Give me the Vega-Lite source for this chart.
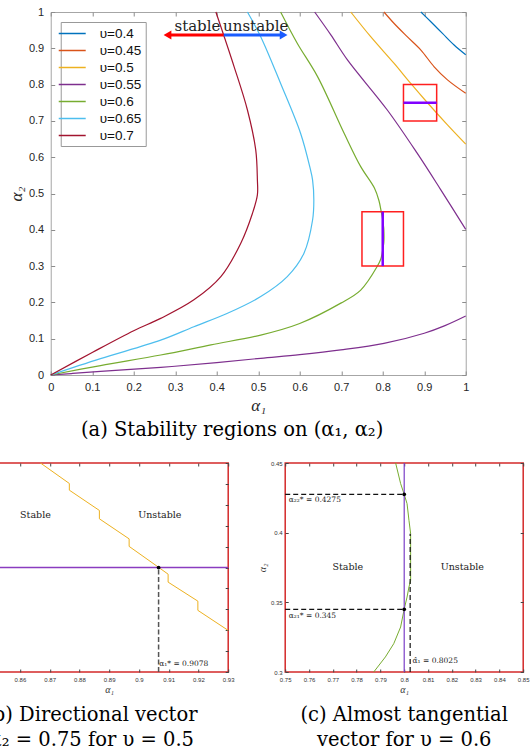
{
  "$schema": "https://vega.github.io/schema/vega-lite/v6.json",
  "padding": {"left": -53, "top": 5, "right": 0, "bottom": 0},
  "background": "white",
  "center": true,
  "spacing": 19,
  "resolve": {"scale": {"color": "independent"}, "legend": {"color": "independent"}},
  "datasets": {
    "contours": [
      {"v":"υ=0.4","b":"a","i":0,"a1":0.892,"a2":1},
      {"v":"υ=0.4","b":"a","i":1,"a1":0.916,"a2":0.973},
      {"v":"υ=0.4","b":"a","i":2,"a1":0.944,"a2":0.941},
      {"v":"υ=0.4","b":"a","i":3,"a1":0.972,"a2":0.909},
      {"v":"υ=0.4","b":"a","i":4,"a1":1,"a2":0.882},
      {"v":"υ=0.45","b":"b","i":0,"a1":0.803,"a2":1},
      {"v":"υ=0.45","b":"b","i":1,"a1":0.827,"a2":0.969},
      {"v":"υ=0.45","b":"b","i":2,"a1":0.859,"a2":0.932},
      {"v":"υ=0.45","b":"b","i":3,"a1":0.892,"a2":0.895},
      {"v":"υ=0.45","b":"b","i":4,"a1":0.924,"a2":0.849},
      {"v":"υ=0.45","b":"b","i":5,"a1":0.956,"a2":0.813},
      {"v":"υ=0.45","b":"b","i":6,"a1":1,"a2":0.776},
      {"v":"υ=0.5","b":"c","i":0,"a1":0.723,"a2":1},
      {"v":"υ=0.5","b":"c","i":1,"a1":0.771,"a2":0.932},
      {"v":"υ=0.5","b":"c","i":2,"a1":0.827,"a2":0.859},
      {"v":"υ=0.5","b":"c","i":3,"a1":0.867,"a2":0.804},
      {"v":"υ=0.5","b":"c","i":4,"a1":0.9078,"a2":0.75},
      {"v":"υ=0.5","b":"c","i":5,"a1":0.956,"a2":0.689},
      {"v":"υ=0.5","b":"c","i":6,"a1":1,"a2":0.636},
      {"v":"υ=0.55","b":"d","i":0,"a1":0.636,"a2":1},
      {"v":"υ=0.55","b":"d","i":1,"a1":0.675,"a2":0.937},
      {"v":"υ=0.55","b":"d","i":2,"a1":0.715,"a2":0.868},
      {"v":"υ=0.55","b":"d","i":3,"a1":0.811,"a2":0.73},
      {"v":"υ=0.55","b":"d","i":4,"a1":0.883,"a2":0.611},
      {"v":"υ=0.55","b":"d","i":5,"a1":0.94,"a2":0.51},
      {"v":"υ=0.55","b":"d","i":6,"a1":1,"a2":0.401},
      {"v":"υ=0.55","b":"e","i":0,"a1":0,"a2":0},
      {"v":"υ=0.55","b":"e","i":1,"a1":0.05,"a2":0.004},
      {"v":"υ=0.55","b":"e","i":2,"a1":0.12,"a2":0.01},
      {"v":"υ=0.55","b":"e","i":3,"a1":0.265,"a2":0.021},
      {"v":"υ=0.55","b":"e","i":4,"a1":0.4,"a2":0.034},
      {"v":"υ=0.55","b":"e","i":5,"a1":0.506,"a2":0.046},
      {"v":"υ=0.55","b":"e","i":6,"a1":0.6,"a2":0.056},
      {"v":"υ=0.55","b":"e","i":7,"a1":0.699,"a2":0.069},
      {"v":"υ=0.55","b":"e","i":8,"a1":0.803,"a2":0.087},
      {"v":"υ=0.55","b":"e","i":9,"a1":0.9,"a2":0.115},
      {"v":"υ=0.55","b":"e","i":10,"a1":0.95,"a2":0.136},
      {"v":"υ=0.55","b":"e","i":11,"a1":1,"a2":0.1625},
      {"v":"υ=0.6","b":"f","i":0,"a1":0.554,"a2":1},
      {"v":"υ=0.6","b":"f","i":1,"a1":0.594,"a2":0.914},
      {"v":"υ=0.6","b":"f","i":2,"a1":0.643,"a2":0.822},
      {"v":"υ=0.6","b":"f","i":3,"a1":0.707,"a2":0.666},
      {"v":"υ=0.6","b":"f","i":4,"a1":0.747,"a2":0.574},
      {"v":"υ=0.6","b":"f","i":5,"a1":0.78,"a2":0.515},
      {"v":"υ=0.6","b":"f","i":6,"a1":0.791,"a2":0.48},
      {"v":"υ=0.6","b":"f","i":7,"a1":0.7964,"a2":0.45},
      {"v":"υ=0.6","b":"f","i":8,"a1":0.8,"a2":0.4275},
      {"v":"υ=0.6","b":"f","i":9,"a1":0.802,"a2":0.409},
      {"v":"υ=0.6","b":"f","i":10,"a1":0.8027,"a2":0.3993},
      {"v":"υ=0.6","b":"f","i":11,"a1":0.8027,"a2":0.3658},
      {"v":"υ=0.6","b":"f","i":12,"a1":0.8012,"a2":0.3538},
      {"v":"υ=0.6","b":"f","i":13,"a1":0.8,"a2":0.345},
      {"v":"υ=0.6","b":"f","i":14,"a1":0.7956,"a2":0.3203},
      {"v":"υ=0.6","b":"f","i":15,"a1":0.7872,"a2":0.3},
      {"v":"υ=0.6","b":"f","i":16,"a1":0.747,"a2":0.234},
      {"v":"υ=0.6","b":"f","i":17,"a1":0.699,"a2":0.198},
      {"v":"υ=0.6","b":"f","i":18,"a1":0.6,"a2":0.142},
      {"v":"υ=0.6","b":"f","i":19,"a1":0.506,"a2":0.11},
      {"v":"υ=0.6","b":"f","i":20,"a1":0.386,"a2":0.083},
      {"v":"υ=0.6","b":"f","i":21,"a1":0.265,"a2":0.055},
      {"v":"υ=0.6","b":"f","i":22,"a1":0.12,"a2":0.026},
      {"v":"υ=0.6","b":"f","i":23,"a1":0,"a2":0},
      {"v":"υ=0.65","b":"g","i":0,"a1":0.474,"a2":1},
      {"v":"υ=0.65","b":"g","i":1,"a1":0.506,"a2":0.932},
      {"v":"υ=0.65","b":"g","i":2,"a1":0.554,"a2":0.803},
      {"v":"υ=0.65","b":"g","i":3,"a1":0.602,"a2":0.666},
      {"v":"υ=0.65","b":"g","i":4,"a1":0.625,"a2":0.57},
      {"v":"υ=0.65","b":"g","i":5,"a1":0.631,"a2":0.537},
      {"v":"υ=0.65","b":"g","i":6,"a1":0.634,"a2":0.482},
      {"v":"υ=0.65","b":"g","i":7,"a1":0.631,"a2":0.427},
      {"v":"υ=0.65","b":"g","i":8,"a1":0.61,"a2":0.335},
      {"v":"υ=0.65","b":"g","i":9,"a1":0.57,"a2":0.271},
      {"v":"υ=0.65","b":"g","i":10,"a1":0.506,"a2":0.216},
      {"v":"υ=0.65","b":"g","i":11,"a1":0.426,"a2":0.17},
      {"v":"υ=0.65","b":"g","i":12,"a1":0.345,"a2":0.133},
      {"v":"υ=0.65","b":"g","i":13,"a1":0.265,"a2":0.096},
      {"v":"υ=0.65","b":"g","i":14,"a1":0.12,"a2":0.045},
      {"v":"υ=0.65","b":"g","i":15,"a1":0,"a2":0},
      {"v":"υ=0.7","b":"h","i":0,"a1":0.398,"a2":1},
      {"v":"υ=0.7","b":"h","i":1,"a1":0.442,"a2":0.849},
      {"v":"υ=0.7","b":"h","i":2,"a1":0.474,"a2":0.73},
      {"v":"υ=0.7","b":"h","i":3,"a1":0.494,"a2":0.62},
      {"v":"υ=0.7","b":"h","i":4,"a1":0.498,"a2":0.537},
      {"v":"υ=0.7","b":"h","i":5,"a1":0.498,"a2":0.496},
      {"v":"υ=0.7","b":"h","i":6,"a1":0.486,"a2":0.445},
      {"v":"υ=0.7","b":"h","i":7,"a1":0.458,"a2":0.363},
      {"v":"υ=0.7","b":"h","i":8,"a1":0.41,"a2":0.271},
      {"v":"υ=0.7","b":"h","i":9,"a1":0.345,"a2":0.207},
      {"v":"υ=0.7","b":"h","i":10,"a1":0.265,"a2":0.156},
      {"v":"υ=0.7","b":"h","i":11,"a1":0.2,"a2":0.122},
      {"v":"υ=0.7","b":"h","i":12,"a1":0.1,"a2":0.062},
      {"v":"υ=0.7","b":"h","i":13,"a1":0,"a2":0}
    ],
    "bstair": [
      {"i":0,"a1":0.8669,"a2":0.8},
      {"i":1,"a1":0.8766,"a2":0.7902},
      {"i":2,"a1":0.8766,"a2":0.787},
      {"i":3,"a1":0.8867,"a2":0.7773},
      {"i":4,"a1":0.8867,"a2":0.7733},
      {"i":5,"a1":0.8967,"a2":0.7637},
      {"i":6,"a1":0.8967,"a2":0.7601},
      {"i":7,"a1":0.9065,"a2":0.7502},
      {"i":8,"a1":0.9098,"a2":0.7468},
      {"i":9,"a1":0.9098,"a2":0.743},
      {"i":10,"a1":0.9198,"a2":0.7339},
      {"i":11,"a1":0.9198,"a2":0.7295},
      {"i":12,"a1":0.93,"a2":0.7199}
    ],
    "cgreen": [
      {"i":0,"a1":0.7964,"a2":0.45},
      {"i":1,"a1":0.7985,"a2":0.4352},
      {"i":2,"a1":0.8,"a2":0.4275},
      {"i":3,"a1":0.8012,"a2":0.4208},
      {"i":4,"a1":0.802,"a2":0.4089},
      {"i":5,"a1":0.8027,"a2":0.3993},
      {"i":6,"a1":0.8027,"a2":0.3658},
      {"i":7,"a1":0.802,"a2":0.361},
      {"i":8,"a1":0.8012,"a2":0.3538},
      {"i":9,"a1":0.8,"a2":0.3452},
      {"i":10,"a1":0.7985,"a2":0.3323},
      {"i":11,"a1":0.7956,"a2":0.3203},
      {"i":12,"a1":0.7921,"a2":0.3108},
      {"i":13,"a1":0.7872,"a2":0.3}
    ]
  },
  "vconcat": [
    {
      "width": 415,
      "height": 363,
      "view": {"stroke": "#a6a6a6", "strokeWidth": 1},
      "title": {"text": "(a) Stability regions on (α₁, α₂)", "orient": "bottom", "anchor": "middle", "frame": "bounds", "font": "DejaVu Serif", "fontSize": 19.5, "fontWeight": "normal", "color": "#000000", "offset": 8, "dx": -6},
      "layer": [
        {
          "data": {"name": "contours"},
          "mark": {"type": "line", "strokeWidth": 1.2, "interpolate": "catmull-rom"},
          "encoding": {
            "x": {"field": "a1", "type": "quantitative", "scale": {"domain": [0, 1], "nice": false, "zero": false},
              "axis": {"orient": "bottom", "values": [0,0.1,0.2,0.3,0.4,0.5,0.6,0.7,0.8,0.9,1], "format": "~g", "domain": false, "grid": false, "tickSize": -4, "tickColor": "#8c8c8c", "labelFont": "Liberation Sans", "labelFontSize": 11, "labelColor": "#262626", "labelPadding": 10, "labelFlush": false, "title": "α₁", "titleFont": "Liberation Serif", "titleFontSize": 17, "titleFontStyle": "italic", "titleFontWeight": "normal", "titleColor": "#262626", "titlePadding": 5}},
            "y": {"field": "a2", "type": "quantitative", "scale": {"domain": [0, 1], "nice": false, "zero": false},
              "axis": {"orient": "left", "values": [0,0.1,0.2,0.3,0.4,0.5,0.6,0.7,0.8,0.9,1], "format": "~g", "domain": false, "grid": false, "tickSize": -4, "tickColor": "#8c8c8c", "labelFont": "Liberation Sans", "labelFontSize": 11, "labelColor": "#262626", "labelPadding": 11, "labelFlush": false, "title": "α₂", "titleFont": "Liberation Serif", "titleFontSize": 17, "titleFontStyle": "italic", "titleFontWeight": "normal", "titleColor": "#262626", "titlePadding": 3}},
            "color": {"field": "v", "type": "nominal",
              "scale": {"domain": ["υ=0.4","υ=0.45","υ=0.5","υ=0.55","υ=0.6","υ=0.65","υ=0.7"], "range": ["#0072BD","#D95319","#EDB120","#7E2F8E","#77AC30","#4DBEEE","#A2142F"]},
              "legend": {"orient": "none", "legendX": 10, "legendY": 10, "title": null, "fillColor": "white", "strokeColor": "#999999", "padding": 4, "labelFont": "Liberation Sans", "labelFontSize": 13.5, "labelColor": "#111111", "symbolType": "M-2,0H2", "symbolSize": 182, "symbolStrokeWidth": 1.5, "rowPadding": 3, "labelOffset": 20}},
            "detail": {"field": "b"},
            "order": {"field": "i", "type": "quantitative"}
          }
        },
        {
          "data": {"values": [{"x1": 0.85, "x2": 0.93, "y1": 0.7, "y2": 0.8}, {"x1": 0.75, "x2": 0.85, "y1": 0.3, "y2": 0.45}]},
          "mark": {"type": "rect", "filled": false, "stroke": "#ff1f1f", "strokeWidth": 1.5},
          "encoding": {
            "x": {"field": "x1", "type": "quantitative", "axis": {"orient": "top", "values": [0,0.1,0.2,0.3,0.4,0.5,0.6,0.7,0.8,0.9,1], "labels": false, "domain": false, "grid": false, "tickSize": -4, "tickColor": "#8c8c8c", "title": null}},
            "x2": {"field": "x2"},
            "y": {"field": "y1", "type": "quantitative", "axis": {"orient": "right", "values": [0,0.1,0.2,0.3,0.4,0.5,0.6,0.7,0.8,0.9,1], "labels": false, "domain": false, "grid": false, "tickSize": -4, "tickColor": "#8c8c8c", "title": " ", "titleFontSize": 2, "titlePadding": 0}},
            "y2": {"field": "y2"}
          }
        },
        {
          "data": {"values": [{"x1": 0.85, "x2": 0.93, "y1": 0.75, "y2": 0.75}, {"x1": 0.8, "x2": 0.8, "y1": 0.3, "y2": 0.45}]},
          "mark": {"type": "rule", "color": "#8000ff", "strokeWidth": 2.5},
          "encoding": {
            "x": {"field": "x1", "type": "quantitative", "axis": null},
            "x2": {"field": "x2"},
            "y": {"field": "y1", "type": "quantitative", "axis": null},
            "y2": {"field": "y2"}
          }
        },
        {
          "data": {"values": [{"x1": 0.417, "x2": 0.2814, "y": 0.9366}]},
          "mark": {"type": "rule", "color": "#ff0000", "strokeWidth": 3},
          "encoding": {
            "x": {"field": "x1", "type": "quantitative", "axis": null},
            "x2": {"field": "x2"},
            "y": {"field": "y", "type": "quantitative", "axis": null}
          }
        },
        {
          "data": {"values": [{"x1": 0.417, "x2": 0.5612, "y": 0.9366}]},
          "mark": {"type": "rule", "color": "#1a5cff", "strokeWidth": 3},
          "encoding": {
            "x": {"field": "x1", "type": "quantitative", "axis": null},
            "x2": {"field": "x2"},
            "y": {"field": "y", "type": "quantitative", "axis": null}
          }
        },
        {
          "data": {"values": [{"x": 0.2814, "y": 0.9366}]},
          "mark": {"type": "point", "shape": "triangle-left", "filled": true, "color": "#ff0000", "size": 80, "opacity": 1},
          "encoding": {
            "x": {"field": "x", "type": "quantitative", "axis": null},
            "y": {"field": "y", "type": "quantitative", "axis": null}
          }
        },
        {
          "data": {"values": [{"x": 0.5612, "y": 0.9366}]},
          "mark": {"type": "point", "shape": "triangle-right", "filled": true, "color": "#1a5cff", "size": 80, "opacity": 1},
          "encoding": {
            "x": {"field": "x", "type": "quantitative", "axis": null},
            "y": {"field": "y", "type": "quantitative", "axis": null}
          }
        },
        {
          "data": {"values": [{"t": "stable", "x": 0.3535, "y": 0.948}, {"t": "unstable", "x": 0.494, "y": 0.948}]},
          "mark": {"type": "text", "font": "DejaVu Serif", "fontSize": 15, "color": "#222222", "align": "center", "baseline": "alphabetic"},
          "encoding": {
            "x": {"field": "x", "type": "quantitative", "axis": null},
            "y": {"field": "y", "type": "quantitative", "axis": null},
            "text": {"field": "t"}
          }
        }
      ],
      "resolve": {"axis": {"x": "independent", "y": "independent"}}
    },
    {
      "spacing": 21,
      "hconcat": [
        {
          "width": 238,
          "height": 209,
          "view": {"stroke": "#d42a2a", "strokeWidth": 1.5},
          "title": {"text": ["(b) Directional vector", "α₂ = 0.75 for υ = 0.5"], "orient": "bottom", "anchor": "middle", "frame": "bounds", "font": "DejaVu Serif", "fontSize": 19.5, "fontWeight": "normal", "color": "#000000", "lineHeight": 25, "offset": 12},
          "layer": [
            {
              "data": {"name": "bstair"},
              "mark": {"type": "line", "color": "#EDB120", "strokeWidth": 1},
              "encoding": {
                "x": {"field": "a1", "type": "quantitative", "scale": {"domain": [0.85, 0.93], "nice": false, "zero": false},
                  "axis": {"orient": "bottom", "values": [0.85,0.86,0.87,0.88,0.89,0.9,0.91,0.92,0.93], "format": "~g", "domain": false, "grid": false, "tickSize": -3, "tickColor": "#444444", "labelFont": "Liberation Sans", "labelFontSize": 6, "labelColor": "#333333", "labelPadding": 7, "labelFlush": false, "title": "α₁", "titleFont": "Liberation Serif", "titleFontSize": 10, "titleFontStyle": "italic", "titleFontWeight": "normal", "titleColor": "#333333", "titlePadding": 2}},
                "y": {"field": "a2", "type": "quantitative", "scale": {"domain": [0.7, 0.8], "nice": false, "zero": false},
                  "axis": {"orient": "left", "values": [0.7,0.71,0.72,0.73,0.74,0.75,0.76,0.77,0.78,0.79,0.8], "format": "~g", "domain": false, "grid": false, "tickSize": -3, "tickColor": "#444444", "labelFont": "Liberation Sans", "labelFontSize": 6, "labelColor": "#333333", "labelPadding": 6, "title": "α₂", "titleFont": "Liberation Serif", "titleFontSize": 10, "titleFontStyle": "italic", "titleFontWeight": "normal", "titleColor": "#333333", "titlePadding": 17}},
                "order": {"field": "i", "type": "quantitative"}
              }
            },
            {
              "data": {"values": [{"x1": 0.85, "x2": 0.93, "y": 0.75}]},
              "mark": {"type": "rule", "color": "#8a3cc0", "strokeWidth": 1.3},
              "encoding": {
                "x": {"field": "x1", "type": "quantitative", "axis": {"orient": "top", "values": [0.85,0.86,0.87,0.88,0.89,0.9,0.91,0.92,0.93], "labels": false, "domain": false, "grid": false, "tickSize": -3, "tickColor": "#444444", "title": null}},
                "x2": {"field": "x2"},
                "y": {"field": "y", "type": "quantitative", "axis": {"orient": "right", "values": [0.7,0.71,0.72,0.73,0.74,0.75,0.76,0.77,0.78,0.79,0.8], "labels": false, "domain": false, "grid": false, "tickSize": -3, "tickColor": "#444444", "title": null}}
              }
            },
            {
              "data": {"values": [{"x": 0.9066, "y1": 0.7, "y2": 0.75}]},
              "mark": {"type": "rule", "color": "#555555", "strokeWidth": 1.5, "strokeDash": [5, 2.5]},
              "encoding": {
                "x": {"field": "x", "type": "quantitative", "axis": null},
                "y": {"field": "y1", "type": "quantitative", "axis": null},
                "y2": {"field": "y2"}
              }
            },
            {
              "data": {"values": [{"x": 0.9066, "y": 0.75}]},
              "mark": {"type": "point", "filled": true, "color": "#000000", "size": 14, "opacity": 1},
              "encoding": {
                "x": {"field": "x", "type": "quantitative", "axis": null},
                "y": {"field": "y", "type": "quantitative", "axis": null}
              }
            },
            {
              "data": {"values": [{"t": "Stable", "x": 0.8652, "y": 0.7749}, {"t": "Unstable", "x": 0.907, "y": 0.7749}]},
              "mark": {"type": "text", "font": "DejaVu Serif", "fontSize": 9.5, "color": "#222222", "align": "center", "baseline": "middle"},
              "encoding": {
                "x": {"field": "x", "type": "quantitative", "axis": null},
                "y": {"field": "y", "type": "quantitative", "axis": null},
                "text": {"field": "t"}
              }
            },
            {
              "data": {"values": [{"t": "α₁* = 0.9078", "x": 0.9068, "y": 0.704}]},
              "mark": {"type": "text", "font": "DejaVu Serif", "fontSize": 7.5, "color": "#222222", "align": "left", "baseline": "middle"},
              "encoding": {
                "x": {"field": "x", "type": "quantitative", "axis": null},
                "y": {"field": "y", "type": "quantitative", "axis": null},
                "text": {"field": "t"}
              }
            }
          ],
          "resolve": {"axis": {"x": "independent", "y": "independent"}}
        },
        {
          "width": 238,
          "height": 209,
          "view": {"stroke": "#d42a2a", "strokeWidth": 1.5},
          "title": {"text": ["(c) Almost tangential", "vector for υ = 0.6"], "orient": "bottom", "anchor": "middle", "frame": "group", "font": "DejaVu Serif", "fontSize": 19.5, "fontWeight": "normal", "color": "#000000", "lineHeight": 25, "offset": 12},
          "layer": [
            {
              "data": {"name": "cgreen"},
              "mark": {"type": "line", "color": "#77AC30", "strokeWidth": 1},
              "encoding": {
                "x": {"field": "a1", "type": "quantitative", "scale": {"domain": [0.75, 0.85], "nice": false, "zero": false},
                  "axis": {"orient": "bottom", "values": [0.75,0.76,0.77,0.78,0.79,0.8,0.81,0.82,0.83,0.84,0.85], "format": "~g", "domain": false, "grid": false, "tickSize": -3, "tickColor": "#444444", "labelFont": "Liberation Sans", "labelFontSize": 6, "labelColor": "#333333", "labelPadding": 7, "labelFlush": false, "title": "α₁", "titleFont": "Liberation Serif", "titleFontSize": 10, "titleFontStyle": "italic", "titleFontWeight": "normal", "titleColor": "#333333", "titlePadding": 2}},
                "y": {"field": "a2", "type": "quantitative", "scale": {"domain": [0.3, 0.45], "nice": false, "zero": false},
                  "axis": {"orient": "left", "values": [0.3,0.35,0.4,0.45], "format": "~g", "domain": false, "grid": false, "tickSize": -3, "tickColor": "#444444", "labelFont": "Liberation Sans", "labelFontSize": 6, "labelColor": "#333333", "labelPadding": 6, "labelFlush": false, "title": "α₂", "titleFont": "Liberation Serif", "titleFontSize": 10, "titleFontStyle": "italic", "titleFontWeight": "normal", "titleColor": "#333333", "titlePadding": 3}},
                "order": {"field": "i", "type": "quantitative"}
              }
            },
            {
              "data": {"values": [{"x": 0.8, "y1": 0.3, "y2": 0.45}]},
              "mark": {"type": "rule", "color": "#7B3FC8", "strokeWidth": 1.2},
              "encoding": {
                "x": {"field": "x", "type": "quantitative", "axis": {"orient": "top", "values": [0.75,0.76,0.77,0.78,0.79,0.8,0.81,0.82,0.83,0.84,0.85], "labels": false, "domain": false, "grid": false, "tickSize": -3, "tickColor": "#444444", "title": null}},
                "y": {"field": "y1", "type": "quantitative", "axis": {"orient": "right", "values": [0.3,0.35,0.4,0.45], "labels": false, "domain": false, "grid": false, "tickSize": -3, "tickColor": "#444444", "title": null}},
                "y2": {"field": "y2"}
              }
            },
            {
              "data": {"values": [{"x1": 0.75, "x2": 0.8, "y": 0.4275}, {"x1": 0.75, "x2": 0.8, "y": 0.345}]},
              "mark": {"type": "rule", "color": "#111111", "strokeWidth": 1.2, "strokeDash": [5, 3]},
              "encoding": {
                "x": {"field": "x1", "type": "quantitative", "axis": null},
                "x2": {"field": "x2"},
                "y": {"field": "y", "type": "quantitative", "axis": null}
              }
            },
            {
              "data": {"values": [{"x": 0.8025, "y1": 0.3, "y2": 0.3993}]},
              "mark": {"type": "rule", "color": "#111111", "strokeWidth": 1.2, "strokeDash": [5, 3]},
              "encoding": {
                "x": {"field": "x", "type": "quantitative", "axis": null},
                "y": {"field": "y1", "type": "quantitative", "axis": null},
                "y2": {"field": "y2"}
              }
            },
            {
              "data": {"values": [{"x": 0.8, "y": 0.4275}, {"x": 0.8, "y": 0.345}]},
              "mark": {"type": "point", "filled": true, "color": "#000000", "size": 14, "opacity": 1},
              "encoding": {
                "x": {"field": "x", "type": "quantitative", "axis": null},
                "y": {"field": "y", "type": "quantitative", "axis": null}
              }
            },
            {
              "data": {"values": [{"t": "Stable", "x": 0.7763, "y": 0.3754}, {"t": "Unstable", "x": 0.8244, "y": 0.3754}]},
              "mark": {"type": "text", "font": "DejaVu Serif", "fontSize": 9.5, "color": "#222222", "align": "center", "baseline": "middle"},
              "encoding": {
                "x": {"field": "x", "type": "quantitative", "axis": null},
                "y": {"field": "y", "type": "quantitative", "axis": null},
                "text": {"field": "t"}
              }
            },
            {
              "data": {"values": [{"t": "α₂₂* = 0.4275", "x": 0.7515, "y": 0.4232}, {"t": "α₂₁* = 0.345", "x": 0.7515, "y": 0.3402}, {"t": "α̂₁ = 0.8025", "x": 0.8035, "y": 0.3079}]},
              "mark": {"type": "text", "font": "DejaVu Serif", "fontSize": 7.5, "color": "#222222", "align": "left", "baseline": "middle"},
              "encoding": {
                "x": {"field": "x", "type": "quantitative", "axis": null},
                "y": {"field": "y", "type": "quantitative", "axis": null},
                "text": {"field": "t"}
              }
            }
          ],
          "resolve": {"axis": {"x": "independent", "y": "independent"}}
        }
      ]
    }
  ],
  "config": {
    "font": "Liberation Sans",
    "view": {"stroke": null}
  }
}
